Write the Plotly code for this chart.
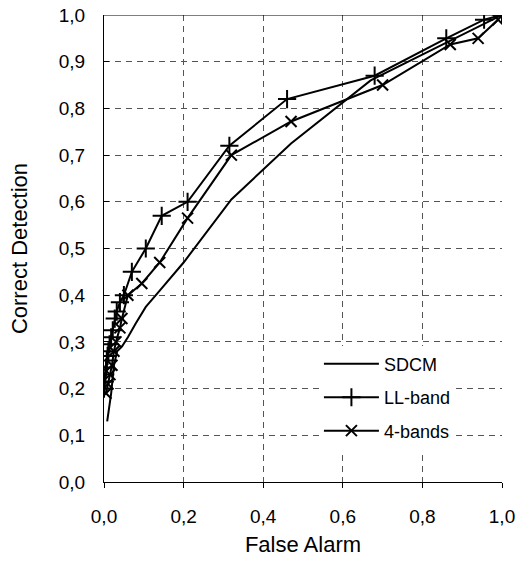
import plotly.graph_objects as go

# SDCM curve (no markers)
sdcm_x = [0.008, 0.018, 0.025, 0.033, 0.045, 0.06, 0.08, 0.105, 0.14, 0.2, 0.32, 0.47, 0.67, 0.86, 1.0]
sdcm_y = [0.13, 0.19, 0.25, 0.28, 0.29, 0.31, 0.34, 0.375, 0.41, 0.47, 0.605, 0.725, 0.86, 0.94, 1.0]

# LL-band curve (+ markers)
ll_x = [0.0, 0.002, 0.003, 0.005, 0.007, 0.009, 0.011, 0.014, 0.018, 0.022, 0.027, 0.032,
        0.04, 0.05, 0.07, 0.105, 0.145, 0.21, 0.315, 0.46, 0.68, 0.86, 0.955, 1.0]
ll_y = [0.20, 0.215, 0.23, 0.245, 0.26, 0.27, 0.28, 0.295, 0.31, 0.325, 0.35, 0.365,
        0.385, 0.40, 0.45, 0.50, 0.57, 0.60, 0.72, 0.82, 0.87, 0.95, 0.99, 1.0]

# 4-bands curve (x markers)
fb_x = [0.005, 0.01, 0.015, 0.02, 0.025, 0.03, 0.04, 0.045, 0.06, 0.095, 0.14, 0.21,
        0.32, 0.47, 0.70, 0.87, 0.94, 0.99]
fb_y = [0.19, 0.21, 0.23, 0.25, 0.28, 0.30, 0.33, 0.35, 0.40, 0.425, 0.47, 0.565,
        0.70, 0.772, 0.85, 0.937, 0.95, 0.99]

tick_vals_x = [0.0, 0.2, 0.4, 0.6, 0.8, 1.0]
tick_vals_y = [0.0, 0.1, 0.2, 0.3, 0.4, 0.5, 0.6, 0.7, 0.8, 0.9, 1.0]

FONT = "Arial, Liberation Sans, sans-serif"
GRID = "#555"

fig = go.Figure()

fig.add_trace(go.Scatter(
    x=sdcm_x, y=sdcm_y, name="SDCM", mode="lines",
    line=dict(color="black", width=2), legendgroup="a"
))
fig.add_trace(go.Scatter(
    x=ll_x, y=ll_y, name="LL-band", mode="lines+markers",
    line=dict(color="black", width=2),
    marker=dict(symbol="cross-thin", size=13, color="black",
                line=dict(color="black", width=2)),
    legendgroup="b"
))
fig.add_trace(go.Scatter(
    x=fb_x, y=fb_y, name="4-bands", mode="lines+markers",
    line=dict(color="black", width=2),
    marker=dict(symbol="x-thin", size=11, color="black",
                line=dict(color="black", width=2)),
    legendgroup="c"
))

# solid top border
fig.add_shape(type="line", xref="x", yref="y", x0=0, x1=1, y0=1, y1=1,
              line=dict(color="black", width=1.2))

fig.update_layout(
    width=532, height=564,
    margin=dict(l=104, r=30, t=15, b=82),
    paper_bgcolor="white", plot_bgcolor="white",
    font=dict(family=FONT, size=18, color="black"),
    separators=", ",
    legend=dict(
        x=0.54, y=0.292, xanchor="left", yanchor="top",
        bgcolor="white", borderwidth=0,
        font=dict(size=18), tracegroupgap=7, itemwidth=55
    ),
)

fig.update_xaxes(
    range=[0, 1], tickvals=tick_vals_x, tickformat=".1f",
    tickfont=dict(size=19), ticklabelstandoff=12,
    showgrid=True, gridcolor=GRID, griddash="6px,5px", gridwidth=1,
    showline=True, linecolor="black", linewidth=1.2,
    ticks="outside", ticklen=5, tickcolor="black",
    zeroline=False, automargin=False,
    title=dict(text="False Alarm", standoff=10),
)
fig.update_yaxes(
    range=[0, 1], tickvals=tick_vals_y, tickformat=".1f",
    tickfont=dict(size=19), ticklabelstandoff=14,
    showgrid=True, gridcolor=GRID, griddash="6px,5px", gridwidth=1,
    showline=True, linecolor="black", linewidth=1.2,
    ticks="inside", ticklen=5, tickcolor="black",
    zeroline=False, automargin=False,
    title=dict(text="Correct Detection", standoff=24),
)

# drop the default body margin so the figure sits at the page corner
fig.write_html("out.html", config={"displayModeBar": False},
               post_script="document.body.style.margin='0';")
